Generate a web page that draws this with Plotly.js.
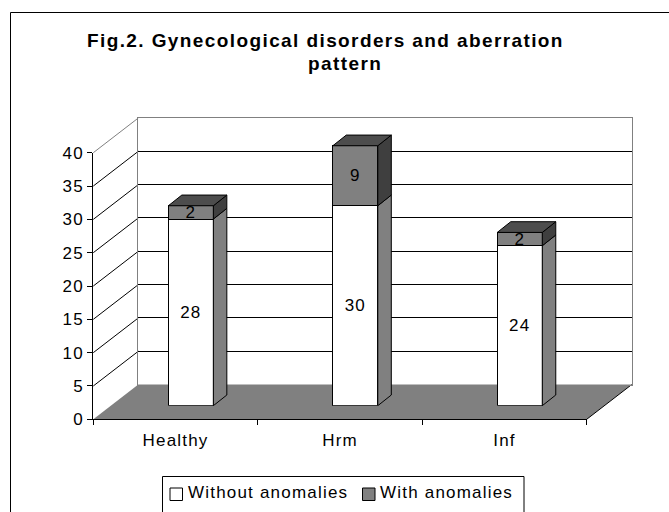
<!DOCTYPE html>
<html>
<head>
<meta charset="utf-8">
<script src="https://cdn.plot.ly/plotly-3.0.1.min.js"></script>
<style>
html, body { margin: 0; padding: 0; background: #ffffff; }
#chart { width: 669px; height: 512px; }
#chart svg text { letter-spacing: 1.2px; }
</style>
</head>
<body>
<div id="chart"></div>
<script>
// ---- data ----
const categories = ['Healthy', 'Hrm', 'Inf'];
const withoutAnomalies = [28, 30, 24];
const withAnomalies = [2, 9, 2];
const yTickValues = [0, 5, 10, 15, 20, 25, 30, 35, 40];
const seriesNames = ['Without anomalies', 'With anomalies'];
const titleLines = ['Fig.2. Gynecological disorders and aberration', 'pattern'];

// ---- layout geometry (pixels) ----
const W = 669, H = 512;
const FRONT = { l: 93.3, r: 586.7, b: 419.3, t: 152.7 };  // front plane of plot
const YMAX = 40;
const WALL = { dx: 45, dy: 34.7 };          // offset of back wall
const BAR_SHIFT = { dx: 15.3, dy: 13.6 };   // offset of bar front faces
const BAR_DEPTH = { dx: 13.5, dy: 10.7 };   // depth of bar boxes
const BAR_W_PX = 45;
const BAR_AXIS_MAX = 45;
const FONT = '"Liberation Sans", Arial, Helvetica, sans-serif';
const GRAY = '#808080', DARK_SIDE = '#3f3f3f', DARK_TOP = '#4d4d4d';

const px = x => x / W;
const py = y => 1 - y / H;
const catPx = (FRONT.r - FRONT.l) / categories.length;
const unitPx = (FRONT.b - FRONT.t) / YMAX;
const yFront = v => FRONT.b - v * unitPx;
const xIdx = categories.map((c, i) => i);
const barWidth = BAR_W_PX / catPx;
const dX = BAR_DEPTH.dx / catPx;
const dY = BAR_DEPTH.dy / unitPx;
const spaced = (t, s) => `<span style="letter-spacing:${s}px">${t}</span>`;

const traces = [
  { // anchors the back-wall axes (invisible)
    type: 'scatter', mode: 'markers', x: categories, y: withoutAnomalies,
    xaxis: 'x', yaxis: 'y', marker: { opacity: 0 }, hoverinfo: 'skip', showlegend: false
  },
  { // anchors the front category axis (invisible)
    type: 'scatter', mode: 'markers', x: categories, y: withoutAnomalies,
    xaxis: 'x2', yaxis: 'y2', marker: { opacity: 0 }, hoverinfo: 'skip', showlegend: false
  },
  {
    type: 'bar', name: seriesNames[0], x: xIdx, y: withoutAnomalies, width: barWidth,
    xaxis: 'x3', yaxis: 'y3',
    marker: { color: '#ffffff', line: { color: '#000000', width: 1 } },
    text: withoutAnomalies.map(String), textposition: 'inside', insidetextanchor: 'middle',
    constraintext: 'none', textangle: 0,
    textfont: { family: FONT, size: 17, color: '#000000' }, showlegend: false
  },
  {
    type: 'bar', name: seriesNames[1], x: xIdx, y: withAnomalies, width: barWidth,
    xaxis: 'x3', yaxis: 'y3',
    marker: { color: GRAY, line: { color: '#000000', width: 1 } },
    text: withAnomalies.map(String), textposition: 'inside', insidetextanchor: 'middle',
    constraintext: 'none', textangle: 0,
    textfont: { family: FONT, size: 17, color: '#000000' }, showlegend: false
  }
];

const shapes = [];
// chart border
shapes.push({ type: 'rect', xref: 'paper', yref: 'paper', x0: px(10.5), y0: py(12.5), x1: px(720), y1: py(560),
  line: { color: '#000000', width: 1 }, layer: 'below' });
// floor
const fl = FRONT.l, fr = FRONT.r, fb = FRONT.b;
shapes.push({ type: 'path', xref: 'paper', yref: 'paper', layer: 'below',
  path: `M${px(fl)},${py(fb)} L${px(fr)},${py(fb)} L${px(fr + WALL.dx)},${py(fb - WALL.dy)} L${px(fl + WALL.dx)},${py(fb - WALL.dy)} Z`,
  fillcolor: GRAY, line: { width: 0 } });
shapes.push({ type: 'line', xref: 'paper', yref: 'paper', layer: 'below',
  x0: px(fr), y0: py(fb), x1: px(fr + WALL.dx), y1: py(fb - WALL.dy), line: { color: '#000000', width: 1 } });
// side wall grid diagonals
yTickValues.forEach(v => {
  if (v === 0) return;
  shapes.push({ type: 'line', xref: 'paper', yref: 'paper', layer: 'below',
    x0: px(fl), y0: py(yFront(v)), x1: px(fl + WALL.dx), y1: py(yFront(v) - WALL.dy),
    line: { color: v === YMAX ? GRAY : '#000000', width: 1 } });
});
// bar side and top faces
categories.forEach((c, i) => {
  const xl = xIdx[i] - barWidth / 2, xr = xIdx[i] + barWidth / 2;
  const segs = [[0, withoutAnomalies[i], GRAY],
                [withoutAnomalies[i], withoutAnomalies[i] + withAnomalies[i], DARK_SIDE]];
  segs.forEach(([y0, y1, col]) => {
    shapes.push({ type: 'path', xref: 'x3', yref: 'y3', layer: 'above',
      path: `M${xr},${y0} L${xr + dX},${y0 + dY} L${xr + dX},${y1 + dY} L${xr},${y1} Z`,
      fillcolor: col, line: { color: '#000000', width: 1 } });
  });
  const yt = withoutAnomalies[i] + withAnomalies[i];
  shapes.push({ type: 'path', xref: 'x3', yref: 'y3', layer: 'above',
    path: `M${xl},${yt} L${xl + dX},${yt + dY} L${xr + dX},${yt + dY} L${xr},${yt} Z`,
    fillcolor: DARK_TOP, line: { color: '#000000', width: 1 } });
});
// legend box and swatches
shapes.push({ type: 'rect', xref: 'paper', yref: 'paper', x0: px(162.5), y0: py(476.5), x1: px(524), y1: py(530),
  line: { color: '#000000', width: 1 }, fillcolor: '#ffffff' });
shapes.push({ type: 'rect', xref: 'paper', yref: 'paper', x0: px(170), y0: py(488), x1: px(182.5), y1: py(500.5),
  line: { color: '#000000', width: 1 }, fillcolor: '#ffffff' });
shapes.push({ type: 'rect', xref: 'paper', yref: 'paper', x0: px(362.5), y0: py(488), x1: px(375), y1: py(500.5),
  line: { color: '#000000', width: 1 }, fillcolor: GRAY });

const annotations = [
  { text: spaced(titleLines[0], 1.4), xref: 'paper', yref: 'paper',
    x: px(325.7), y: py(40.5), xanchor: 'center', yanchor: 'middle', showarrow: false,
    font: { family: FONT, size: 19, color: '#000000', weight: 'bold' } },
  { text: spaced(titleLines[1], 1.4), xref: 'paper', yref: 'paper',
    x: px(345.3), y: py(63.3), xanchor: 'center', yanchor: 'middle', showarrow: false,
    font: { family: FONT, size: 19, color: '#000000', weight: 'bold' } },
  { text: spaced(seriesNames[0], 1.2), xref: 'paper', yref: 'paper', x: px(185.5), y: py(492.2),
    xanchor: 'left', yanchor: 'middle', showarrow: false, font: { family: FONT, size: 17, color: '#000000' } },
  { text: spaced(seriesNames[1], 1.2), xref: 'paper', yref: 'paper', x: px(378), y: py(492.2),
    xanchor: 'left', yanchor: 'middle', showarrow: false, font: { family: FONT, size: 17, color: '#000000' } }
];

const layout = {
  width: W, height: H, autosize: false,
  margin: { l: 0, r: 0, t: 0, b: 0, pad: 0 },
  paper_bgcolor: '#ffffff', plot_bgcolor: 'rgba(0,0,0,0)',
  showlegend: false, barmode: 'stack', bargap: 0,
  font: { family: FONT, size: 17, color: '#000000' },
  // back wall
  xaxis: { domain: [px(fl + WALL.dx), px(fr + WALL.dx)], anchor: 'y', type: 'category',
    range: [-0.5, categories.length - 0.5],
    showgrid: false, zeroline: false, showticklabels: false, ticks: '',
    showline: true, linecolor: GRAY, linewidth: 1, mirror: true, fixedrange: true },
  yaxis: { domain: [py(fb - WALL.dy), py(FRONT.t - WALL.dy)], range: [0, YMAX], anchor: 'x',
    tickvals: yTickValues, showticklabels: false, ticks: '',
    showgrid: true, gridcolor: '#000000', gridwidth: 1, zeroline: false,
    showline: true, linecolor: GRAY, linewidth: 1, mirror: true, fixedrange: true },
  // front axes
  xaxis2: { domain: [px(fl), px(fr)], anchor: 'y2', type: 'category',
    categoryorder: 'array', categoryarray: categories, range: [-0.5, categories.length - 0.5],
    tickson: 'boundaries', ticks: 'outside', ticklen: 5, tickcolor: '#000000', tickwidth: 1,
    ticklabelstandoff: 5,
    showline: true, linecolor: '#000000', linewidth: 1, showgrid: false, zeroline: false,
    tickfont: { family: FONT, size: 17, color: '#000000' }, fixedrange: true },
  yaxis2: { domain: [py(fb), py(FRONT.t)], anchor: 'x2', range: [0, YMAX],
    tickvals: yTickValues, ticks: 'outside', ticklen: 5, tickcolor: '#000000', tickwidth: 1,
    showline: true, linecolor: '#000000', linewidth: 1, showgrid: false, zeroline: false,
    tickfont: { family: FONT, size: 17, color: '#000000' }, fixedrange: true },
  // bars
  xaxis3: { domain: [px(fl + BAR_SHIFT.dx), px(fr + BAR_SHIFT.dx)], anchor: 'y3',
    range: [-0.5, categories.length - 0.5], visible: false, fixedrange: true },
  yaxis3: { domain: [py(fb - BAR_SHIFT.dy), py(fb - BAR_SHIFT.dy - BAR_AXIS_MAX * unitPx)], anchor: 'x3',
    range: [0, BAR_AXIS_MAX], visible: false, fixedrange: true },
  shapes: shapes,
  annotations: annotations
};

Plotly.newPlot('chart', traces, layout, { displayModeBar: false, staticPlot: true });
</script>
</body>
</html>
